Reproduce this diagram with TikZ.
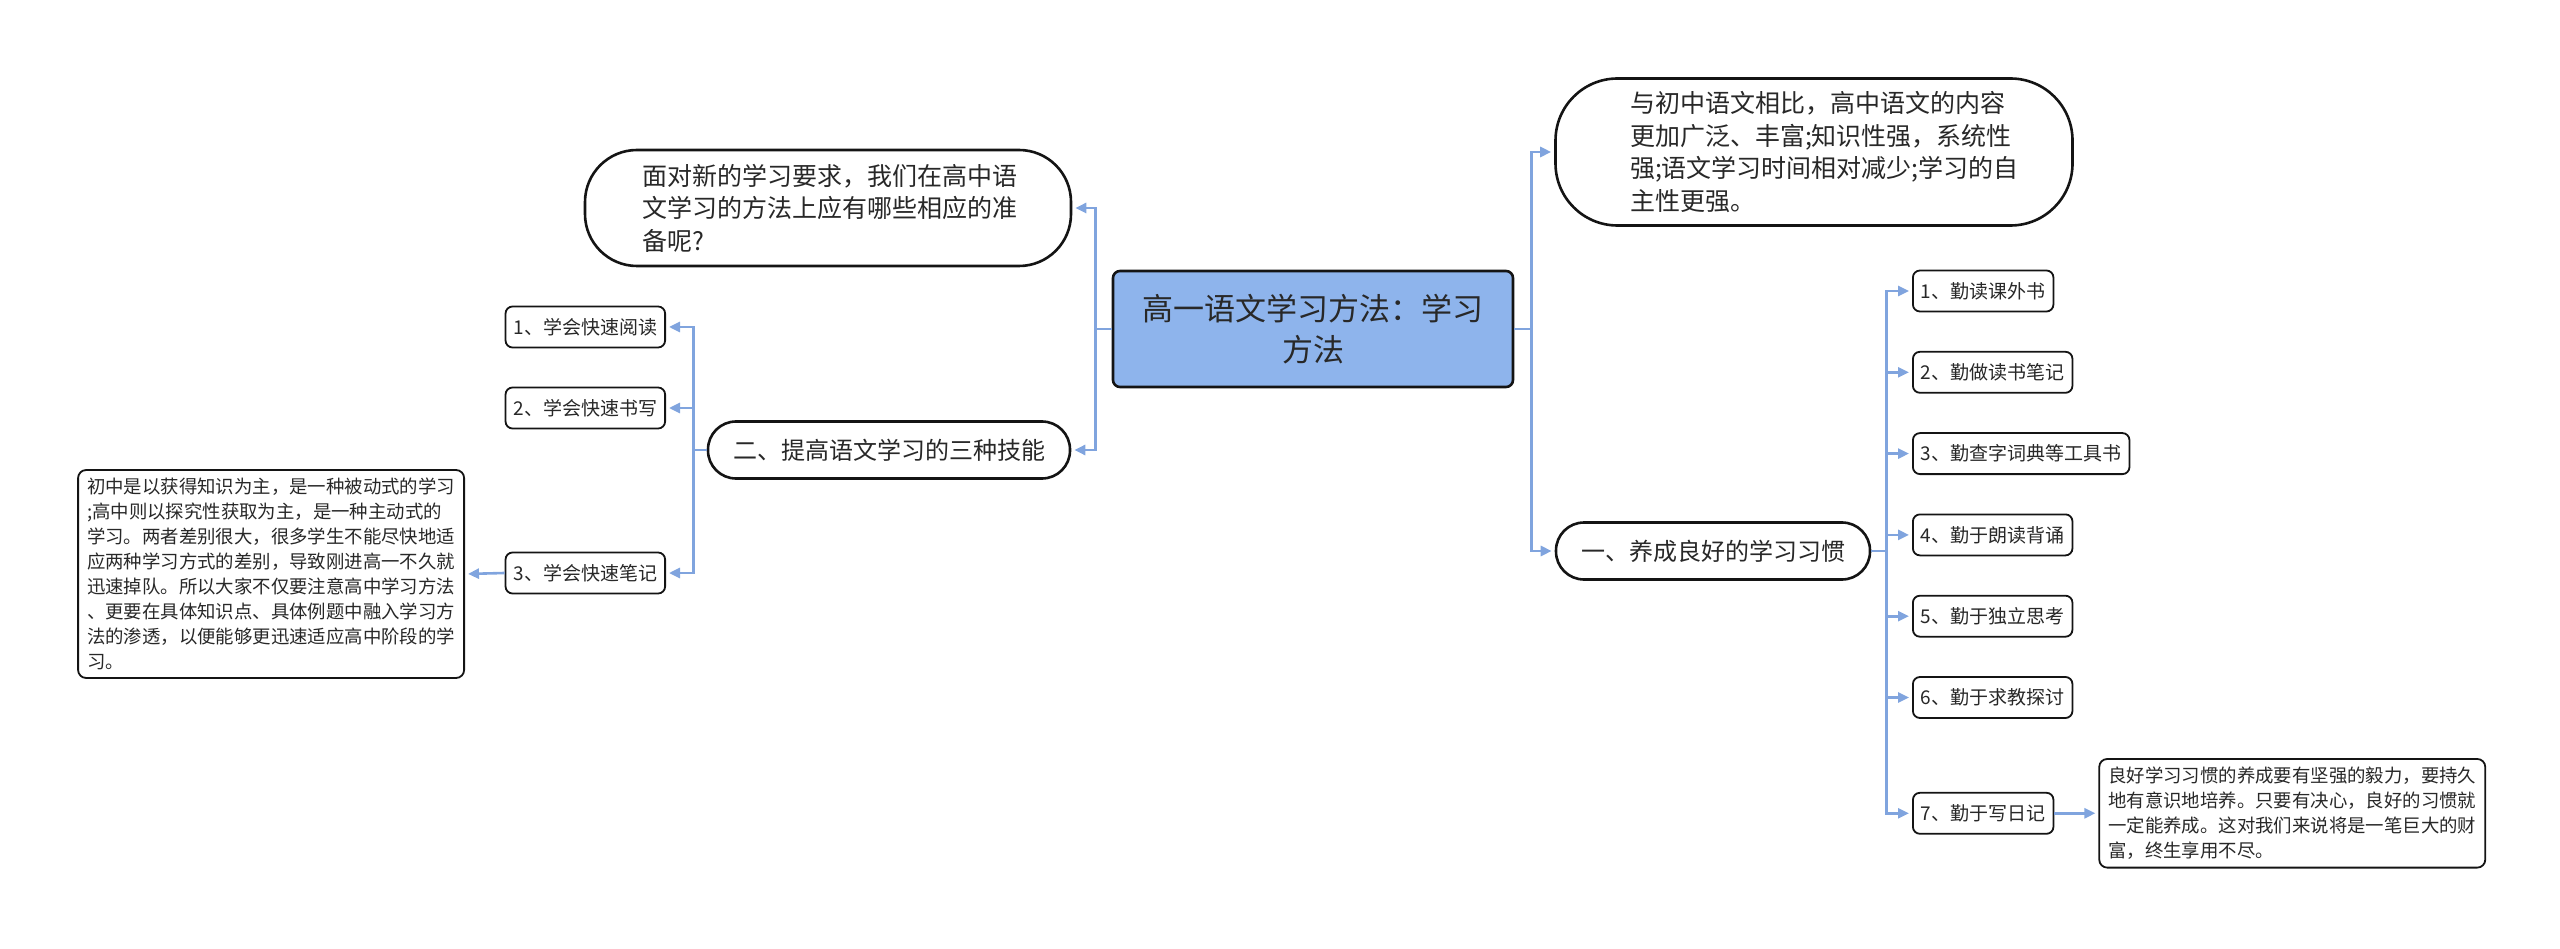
\documentclass[tikz,border=0pt]{standalone}
\usepackage{fontspec}
\setmainfont{Noto Sans CJK SC}
\usepackage{xcolor}
\usepackage{tikz}
\usetikzlibrary{arrows.meta, positioning, calc}
\definecolor{mydark}{RGB}{20,20,20}
\definecolor{mytext}{RGB}{40,40,40}
\definecolor{myblue}{RGB}{128,164,222}
\definecolor{hdrblue}{RGB}{142,180,236}
\tikzset{
  rootnode/.style={rectangle, draw=mydark, fill=hdrblue, text=mytext,
    minimum width=400pt, minimum height=116pt, align=center,
    font=\fontsize{31}{41}\selectfont, rounded corners=7pt, line width=2.6pt},
  bubble/.style={rectangle, draw=mydark, fill=white, text=mytext,
    align=left, rounded corners=52pt, line width=2.6pt,
    font=\fontsize{25}{32.5}\selectfont},
  branch/.style={rectangle, draw=mydark, fill=white, text=mytext,
    minimum height=57pt, inner xsep=25pt, rounded corners=28pt,
    line width=2.6pt, font=\fontsize{24}{30}\selectfont},
  leaf/.style={rectangle, draw=mydark, fill=white, text=mytext,
    minimum height=41pt, inner xsep=8pt, rounded corners=7pt,
    line width=1.8pt, font=\fontsize{19}{24}\selectfont},
  infobox/.style={rectangle, draw=mydark, fill=white, text=mytext,
    align=left, text width=368pt, inner xsep=9pt, inner ysep=8pt,
    rounded corners=8pt, line width=1.8pt,
    font=\fontsize{18.4}{25}\selectfont},
  arrow/.style={-{Triangle[length=11pt,width=10pt]}, line width=2.6pt,
    color=myblue, shorten >=3pt},
  line/.style={line width=2.6pt, color=myblue}
}

\begin{document}
\begin{tikzpicture}[x=1pt, y=-1pt]
  \useasboundingbox (0,0) rectangle (2560,949);

  % Root
  \node[rootnode] (root) at (1313,329) {高一语文学习方法：学习\\方法};

  % Left side
  \node[bubble, minimum width=486pt, minimum height=116pt, text width=372pt] (ask) at (828,208)
    {面对新的学习要求，我们在高中语\\文学习的方法上应有哪些相应的准\\备呢?};
  \node[branch] (skill) at (889,450) {二、提高语文学习的三种技能};
  \node[leaf, anchor=east] (read) at (666,327) {1、学会快速阅读};
  \node[leaf, anchor=east] (write) at (666,408) {2、学会快速书写};
  \node[leaf, anchor=east] (notes) at (666,573) {3、学会快速笔记};
  \node[infobox, anchor=east] (noteinfo) at (465,574)
    {初中是以获得知识为主，是一种被动式的学习\\;高中则以探究性获取为主，是一种主动式的\\学习。两者差别很大，很多学生不能尽快地适\\应两种学习方式的差别，导致刚进高一不久就\\迅速掉队。所以大家不仅要注意高中学习方法\\、更要在具体知识点、具体例题中融入学习方\\法的渗透，以便能够更迅速适应高中阶段的学\\习。};

  % Right side
  \node[bubble, minimum width=517pt, minimum height=147pt, text width=368pt, rounded corners=62pt] (diff) at (1814,152)
    {与初中语文相比，高中语文的内容\\更加广泛、丰富;知识性强，系统性\\强;语文学习时间相对减少;学习的自\\主性更强。};
  \node[branch] (habit) at (1713,551) {一、养成良好的学习习惯};
  \node[leaf, anchor=west] (h1) at (1912,291) {1、勤读课外书};
  \node[leaf, below=38.5pt of h1.south west, anchor=north west] (h2) {2、勤做读书笔记};
  \node[leaf, below=38.5pt of h2.south west, anchor=north west] (h3) {3、勤查字词典等工具书};
  \node[leaf, below=38.5pt of h3.south west, anchor=north west] (h4) {4、勤于朗读背诵};
  \node[leaf, below=38.5pt of h4.south west, anchor=north west] (h5) {5、勤于独立思考};
  \node[leaf, below=38.5pt of h5.south west, anchor=north west] (h6) {6、勤于求教探讨};
  \node[leaf, below=73pt of h6.south west, anchor=north west] (h7) {7、勤于写日记};
  \node[infobox, right=44pt of h7] (diary)
    {良好学习习惯的养成要有坚强的毅力，要持久\\地有意识地培养。只要有决心，良好的习惯就\\一定能养成。这对我们来说将是一笔巨大的财\\富，终生享用不尽。};

  % Paths
  \draw[arrow] (root.west) -- ++(-16,0) |- (ask.east);
  \draw[arrow] (root.west) -- ++(-16,0) |- (skill.east);
  \draw[arrow] (root.east) -- ++(17,0) |- (diff.west);
  \draw[arrow] (root.east) -- ++(17,0) |- (habit.west);
  \draw[arrow] (skill.west) -- ++(-13,0) |- (read.east);
  \draw[arrow] (skill.west) -- ++(-13,0) |- (write.east);
  \draw[arrow] (skill.west) -- ++(-13,0) |- (notes.east);
  \draw[arrow] (notes.west) -- (noteinfo.east);
  \draw[arrow] (habit.east) -- ++(15,0) |- (h1.west);
  \draw[arrow] (habit.east) -- ++(15,0) |- (h2.west);
  \draw[arrow] (habit.east) -- ++(15,0) |- (h3.west);
  \draw[arrow] (habit.east) -- ++(15,0) |- (h4.west);
  \draw[arrow] (habit.east) -- ++(15,0) |- (h5.west);
  \draw[arrow] (habit.east) -- ++(15,0) |- (h6.west);
  \draw[arrow] (habit.east) -- ++(15,0) |- (h7.west);
  \draw[arrow] (h7.east) -- (diary.west);
\end{tikzpicture}
\end{document}
